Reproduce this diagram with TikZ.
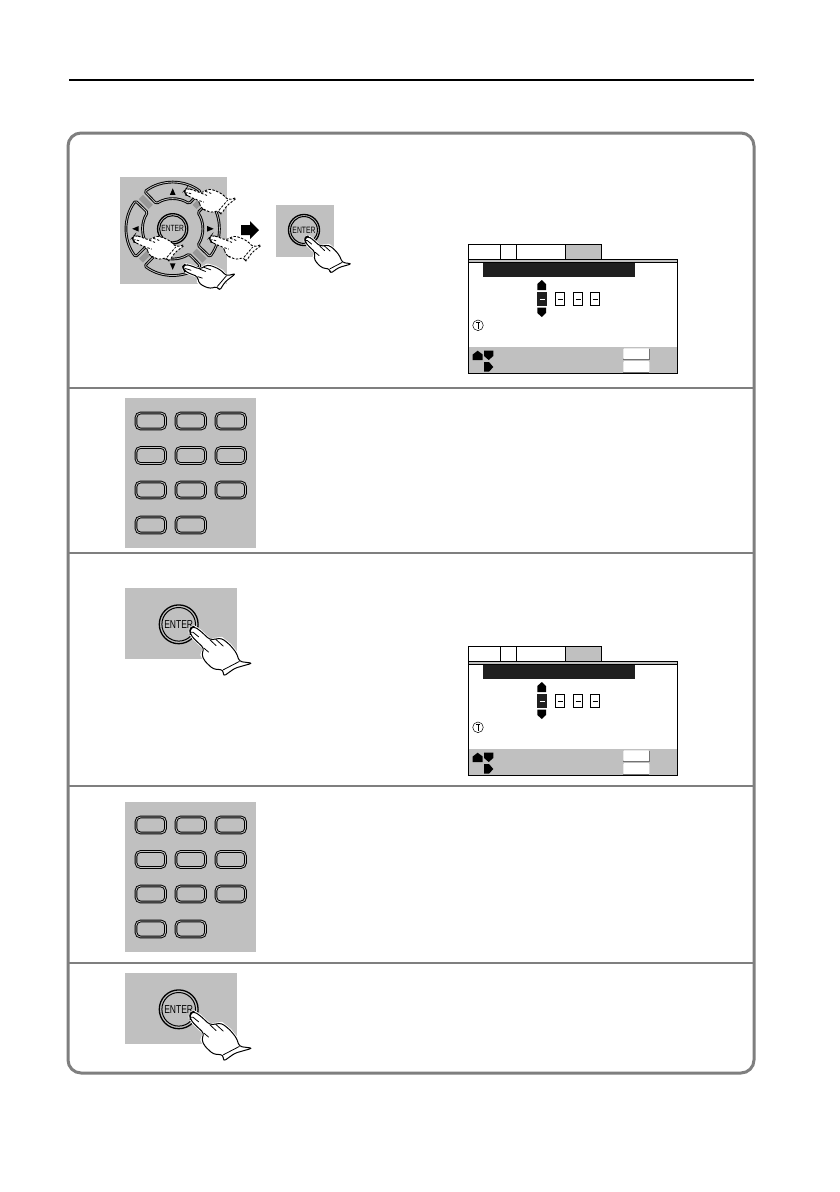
\documentclass[tikz,border=0pt]{standalone}
\usepackage{fontspec}
\setmainfont{Liberation Sans}
\definecolor{panel}{HTML}{C0C0C0}
\definecolor{framegrey}{HTML}{7F7F7F}
\definecolor{diag}{HTML}{999999}
\newcommand{\handoutline}{(0,0) -- (2,-10) -- (12,-15) -- (30,-3) -- (60,25) -- (95,20) -- (120,40) -- (140,65) -- (148,90) -- (188,95) -- (135,110) -- (100,135) -- (100,115) -- (70,113) -- (45,90) -- (35,70) -- (42,50) -- (10,20) -- (0,5) -- cycle}
\newcommand{\handinner}{(100,115) -- (148,90) (60,25) -- (78,42) (78,24) -- (100,44) (42,50) -- (56,62) (0,2) -- (9,2) -- (26,16)}
\tikzset{
  dbl/.style={draw=black,line width=.95pt,double=panel,double distance=.8pt},
  pics/hand/.style={code={
    \draw[white,line width=2.6pt,line join=round] \handoutline;
    \draw[line width=1pt,fill=white,rounded corners=3pt,line join=round] \handoutline;
    \draw[line width=.8pt,line cap=round] \handinner;
    \draw[line width=1.5pt,line cap=round] (0,0) -- (2,-10) -- (12,-15);
  }},
  pics/dashhand/.style={code={
    \fill[white,rounded corners=3pt] \handoutline;
    \draw[line width=.9pt,dash pattern=on 2.4pt off 1.5pt,rounded corners=3pt] \handoutline;
    \draw[line width=.8pt,dash pattern=on 2.4pt off 1.5pt] \handinner;
  }},
  pics/enterbtn/.style={code={
    \draw[line width=1.3pt] (0,0) circle (19.4);
    \draw[line width=1pt] (0,0) circle (16.8);
    \node[transform shape,inner sep=0pt,font=\fontsize{11.5}{11.5}\selectfont] (-label) at (0,0) {\scalebox{.74}[1]{ENTER}};
  }},
  pics/keypad/.style={code={
    \fill[panel] (125,398) rectangle (256,548);
    \foreach \by in {413,447.5,482,517}
      \foreach \bx in {136,176,216}{
        \ifdim\by pt=517pt \ifnum\bx=216 \else
          \draw[dbl,rounded corners=4.5pt] (\bx,\by) rectangle ++(29.5,16);
        \fi\else
          \draw[dbl,rounded corners=4.5pt] (\bx,\by) rectangle ++(29.5,16);
        \fi
      }
  }},
  pics/screen/.style={code={
    \fill[panel] (565.7,244.3) rectangle (601.3,259.5);
    \draw[line width=.8pt] (468.3,259.3) -- (468.3,244.3) -- (601.3,244.3) -- (601.3,259.3);
    \draw[line width=.8pt] (500.7,244.3) -- (500.7,259.3) (516.7,244.3) -- (516.7,259.3) (565.7,244.3) -- (565.7,259.3);
    \draw[line width=.8pt,fill=panel] (468.3,259.3) rectangle (677.3,262.7);
    \fill[black!88] (483,262.7) rectangle (635,276.7);
    \fill[panel] (468.7,346.7) rectangle (676.9,372.9);
    \draw[line width=.8pt] (468.3,262.7) rectangle (677.3,373.3);
    % up and down markers round the first digit
    \fill[black] (537.3,290) -- (537.3,284) -- (541.8,280) -- (546,284) -- (546,290) -- cycle;
    \fill[black] (537.3,307.7) -- (537.3,313) -- (541.8,317) -- (546,313) -- (546,307.7) -- cycle;
    \fill[black!88] (537.3,292.3) rectangle (546.7,305.7);
    \draw[white,line width=.8pt] (539.5,299) -- (544.5,299);
    \foreach \dx in {555.5,573.5,590.5}{
      \draw[line width=.8pt] (\dx,292.5) rectangle ++(9,13);
      \draw[line width=.8pt] (\dx+2,299) -- ++(5,0);
    }
    % info mark
    \draw[line width=.5pt] (478,325.3) circle (5.3);
    \draw[line width=.9pt] (478,322.5) -- (478,328.5);
    \draw[line width=.3pt] (476.4,321.8) -- (479.6,321.8);
    % footer keys
    \fill[black] (472.7,360) -- (472.7,354.5) -- (477.7,350.7) -- (482.7,354.5) -- (482.7,360) -- cycle;
    \fill[black] (484,350.7) -- (493.3,350.7) -- (493.3,356) -- (488.7,360) -- (484,356) -- cycle;
    \fill[black] (484,362) -- (489,362) -- (493.3,367) -- (489,371.7) -- (484,371.7) -- cycle;
    \fill[white,rounded corners=1pt] (623.3,348.3) rectangle (649.3,359);
    \fill[white,rounded corners=1pt] (623.3,361) rectangle (649.3,372.3);
    \draw[black!55,line width=.5pt] (623.3,359.2) -- (649.3,359.2) -- (649.3,349);
    \draw[black!55,line width=.5pt] (623.3,372.5) -- (649.3,372.5);
  }},
  pics/dpadkey/.style={code={
    \draw[dbl,line join=round,rounded corners=1.5pt] (127:46.5) arc[start angle=127,end angle=53,radius=46.5] -- (57:30) arc[start angle=57,end angle=123,radius=30] -- cycle;
  }}
}
\begin{document}
\begin{tikzpicture}[x=1pt,y=-1pt]
\useasboundingbox (0,0) rectangle (840,1192);
\fill[white] (0,0) rectangle (840,1192);
\draw[black,line width=2pt] (69,80) -- (754,80);

% frame and dividers
\draw[framegrey,line width=3pt,rounded corners=13pt] (68,133) rectangle (754,1073);
\foreach \ly in {388,552.5,786,963}
  \draw[framegrey,line width=2pt] (68,\ly) -- (754,\ly);

% row 1: direction pad
\fill[panel] (120,177) rectangle (227,284);
\begin{scope}[shift={(172.7,228.8)}]
  \foreach \ang in {45,135,225,315}
    \draw[diag,line width=6pt] (\ang:31) -- (\ang:45);
  \foreach \rot in {0,90,180,270}
    \pic[rotate=\rot] {dpadkey};
  \fill (0,-40.5) -- (-2.8,-34) -- (2.8,-34) -- cycle;
  \fill (0,41) -- (-2.8,34.5) -- (2.8,34.5) -- cycle;
  \fill (-40.5,0) -- (-34,-2.8) -- (-34,2.8) -- cycle;
  \fill (41,0) -- (34.5,-2.8) -- (34.5,2.8) -- cycle;
\end{scope}
\pic[scale=.78] (e1) at (172.7,228.8) {enterbtn};
\pic[scale=.25,rotate=22] at (185,193) {dashhand};
\pic[scale=.25,rotate=22] at (133,240) {dashhand};
\pic[scale=.25,rotate=22] at (210,240) {dashhand};
\pic[scale=.25,rotate=22] at (183.5,269) {hand};

% arrow between the pads
\fill[black] (241,225) -- (250,225) -- (250,221) -- (259,230) -- (250,239) -- (250,235) -- (241,235) -- cycle;

% row 1: enter pad
\fill[panel] (276,205) rectangle (334,257);
\pic[scale=.8] (e2) at (304,230) {enterbtn};
\pic[scale=.25] at (305,240) {hand};

% screens
\pic at (0,0) {screen};
\pic at (0,402) {screen};

% keypads
\pic at (0,0) {keypad};
\pic at (0,404) {keypad};

% row 3
\fill[panel] (125,588) rectangle (237,659);
\pic (e3) at (178.7,624.3) {enterbtn};
\pic[scale=.333] at (190,631.5) {hand};

% row 5
\fill[panel] (125,973) rectangle (237,1044);
\pic (e4) at (178.7,1009.3) {enterbtn};
\pic[scale=.333] at (190,1016.5) {hand};
\end{tikzpicture}
\end{document}
